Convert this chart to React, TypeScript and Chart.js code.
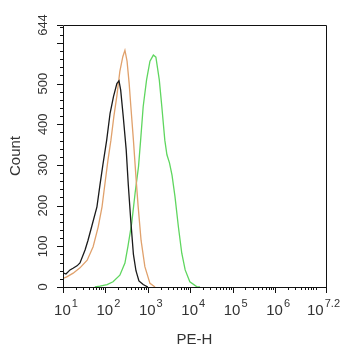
import React, { useEffect, useRef } from 'react';
import { Chart, registerables } from 'chart.js';

Chart.register(...registerables);

// x values are log10 of PE-H intensity; y values are counts
const blackX = [1.0, 1.07, 1.165, 1.236, 1.33, 1.4, 1.52, 1.59, 1.68, 1.8, 1.87, 1.94, 2.03, 2.11, 2.19, 2.27, 2.32, 2.36, 2.42, 2.49, 2.54, 2.6, 2.66, 2.72, 2.79, 2.89, 3.0];
const blackY = [35, 32, 42, 46, 52, 59, 91, 115, 150, 197, 250, 300, 361, 427, 468, 500, 507, 484, 419, 337, 250, 160, 80, 40, 15, 6, 0];

const orangeX = [1.0, 1.09, 1.24, 1.4, 1.57, 1.71, 1.83, 1.92, 1.99, 2.06, 2.13, 2.2, 2.27, 2.34, 2.41, 2.46, 2.51, 2.56, 2.6, 2.66, 2.72, 2.77, 2.84, 2.93, 3.05, 3.17];
const orangeY = [21, 25, 34, 47, 66, 99, 148, 197, 255, 312, 361, 420, 470, 530, 566, 582, 555, 500, 443, 361, 270, 200, 115, 50, 9, 0];

const greenX = [1.75, 1.87, 2.04, 2.18, 2.34, 2.46, 2.53, 2.62, 2.7, 2.78, 2.83, 2.89, 2.97, 3.05, 3.13, 3.19, 3.27, 3.33, 3.4, 3.45, 3.51, 3.57, 3.64, 3.72, 3.8, 3.88, 3.99, 4.15, 4.23];
const greenY = [0, 2, 6, 13, 29, 59, 99, 157, 231, 296, 361, 443, 509, 555, 570, 565, 509, 443, 361, 325, 305, 275, 222, 148, 83, 42, 13, 1, 0];

const xMin = 1;
const xMax = 7.2;
const xMajorTicks = [1, 2, 3, 4, 5, 6, 7.2];
const xTickBase = ['10', '10', '10', '10', '10', '10', '10'];
const xTickSup = ['1', '2', '3', '4', '5', '6', '7.2'];
const xMinorMultipliers = [2, 3, 4, 5, 6, 7, 8, 9];

const yMin = 0;
const yMax = 644;
const yMajorTicks = [0, 100, 200, 300, 400, 500, 600, 644];
const yLabelTicks = [0, 100, 200, 300, 400, 500, 644];
const yMinorStep = 20;

const xTitle = 'PE-H';
const yTitle = 'Count';

const FONT = '"Liberation Sans", Arial, sans-serif';
const TEXT_COLOR = '#333';

const toPoints = (xs: number[], ys: number[]) => xs.map((x, i) => ({ x, y: ys[i] }));

const axesPlugin = {
  id: 'customAxes',
  afterDraw(chart: any) {
    const ctx = chart.ctx as CanvasRenderingContext2D;
    const { left, right, top, bottom } = chart.chartArea;
    const xs = chart.scales.x;
    const ys = chart.scales.y;
    ctx.save();
    ctx.strokeStyle = '#111';
    ctx.lineWidth = 1;
    // box
    ctx.beginPath();
    ctx.rect(Math.round(left) + 0.5, Math.round(top) + 0.5, Math.round(right - left), Math.round(bottom - top));
    ctx.stroke();

    // y ticks
    ctx.beginPath();
    for (let v = yMin; v <= yMax; v += yMinorStep) {
      const py = Math.round(ys.getPixelForValue(v)) + 0.5;
      ctx.moveTo(left, py);
      ctx.lineTo(left - 3, py);
    }
    yMajorTicks.forEach((v) => {
      const py = Math.round(ys.getPixelForValue(v)) + 0.5;
      ctx.moveTo(left, py);
      ctx.lineTo(left - 6, py);
    });
    // x ticks
    for (let d = Math.floor(xMin); d < xMax; d++) {
      xMinorMultipliers.forEach((m) => {
        const v = d + Math.log10(m);
        if (v > xMax) return;
        const px = Math.round(xs.getPixelForValue(v)) + 0.5;
        ctx.moveTo(px, bottom);
        ctx.lineTo(px, bottom + 3);
      });
    }
    xMajorTicks.forEach((v) => {
      const px = Math.round(xs.getPixelForValue(v)) + 0.5;
      ctx.moveTo(px, bottom);
      ctx.lineTo(px, bottom + 6);
    });
    ctx.stroke();

    // y labels (rotated)
    ctx.fillStyle = TEXT_COLOR;
    ctx.font = `13px ${FONT}`;
    ctx.textAlign = 'center';
    ctx.textBaseline = 'alphabetic';
    yLabelTicks.forEach((v) => {
      const py = ys.getPixelForValue(v);
      ctx.save();
      ctx.translate(47, py);
      ctx.rotate(-Math.PI / 2);
      ctx.fillText(String(v), 0, 0);
      ctx.restore();
    });

    // x labels with superscripts
    const canvasW = chart.width;
    xMajorTicks.forEach((v, i) => {
      const px = xs.getPixelForValue(v);
      ctx.font = `15px ${FONT}`;
      const bw = ctx.measureText(xTickBase[i]).width;
      ctx.font = `11px ${FONT}`;
      const sw = ctx.measureText(xTickSup[i]).width;
      const total = bw + 1 + sw;
      let startX = px - total / 2 + 3;
      if (startX + total > canvasW - 2) startX = canvasW - 2 - total;
      ctx.textAlign = 'left';
      ctx.font = `15px ${FONT}`;
      ctx.fillText(xTickBase[i], startX, 315);
      ctx.font = `11px ${FONT}`;
      ctx.fillText(xTickSup[i], startX + bw + 1, 307);
    });

    // titles
    ctx.textAlign = 'center';
    ctx.font = `15px ${FONT}`;
    ctx.fillText(xTitle, (left + right) / 2, 344);
    ctx.save();
    ctx.translate(20, (top + bottom) / 2);
    ctx.rotate(-Math.PI / 2);
    ctx.fillText(yTitle, 0, 0);
    ctx.restore();
    ctx.restore();
  },
};

export default function App() {
  const canvasRef = useRef<HTMLCanvasElement | null>(null);

  useEffect(() => {
    if (!canvasRef.current) return;
    const chart = new Chart(canvasRef.current, {
      type: 'line',
      data: {
        datasets: [
          {
            label: 'black',
            data: toPoints(blackX, blackY),
            borderColor: '#1a1a1a',
            borderWidth: 1.3,
            pointRadius: 0,
            fill: false,
            tension: 0,
          },
          {
            label: 'orange',
            data: toPoints(orangeX, orangeY),
            borderColor: '#e0a16c',
            borderWidth: 1.3,
            pointRadius: 0,
            fill: false,
            tension: 0,
          },
          {
            label: 'green',
            data: toPoints(greenX, greenY),
            borderColor: '#5fd65f',
            borderWidth: 1.3,
            pointRadius: 0,
            fill: false,
            tension: 0,
          },
        ],
      },
      options: {
        responsive: false,
        animation: false,
        layout: { padding: { left: 63, top: 25, right: 16, bottom: 63 } },
        scales: {
          x: { type: 'linear', min: xMin, max: xMax, display: false },
          y: { type: 'linear', min: yMin, max: yMax, display: false },
        },
        plugins: {
          legend: { display: false },
          tooltip: { enabled: false },
        },
      },
      plugins: [axesPlugin],
    });
    return () => chart.destroy();
  }, []);

  return (
    <div style={{ position: 'absolute', left: 0, top: 0, width: 342, height: 350, background: '#fff' }}>
      <canvas ref={canvasRef} width={342} height={350} />
    </div>
  );
}
